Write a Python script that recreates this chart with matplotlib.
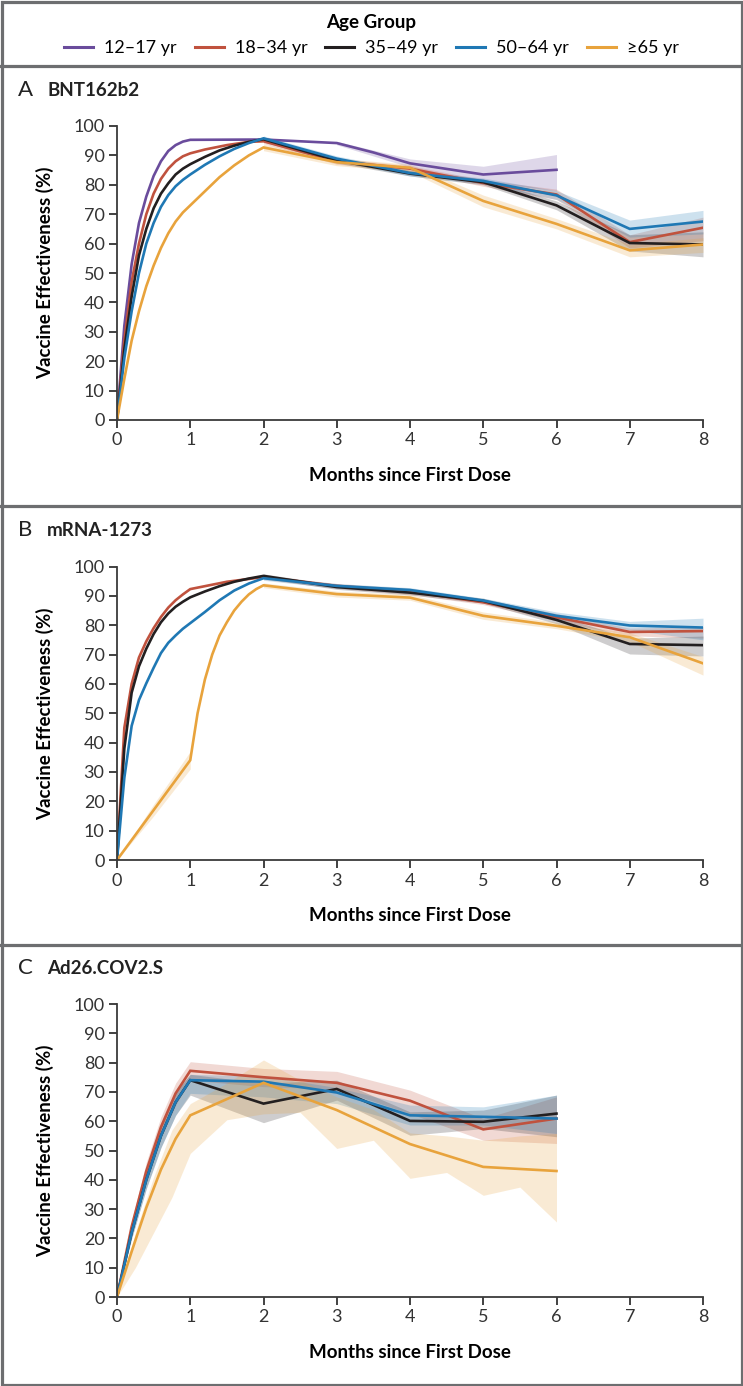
import numpy as np
import matplotlib; matplotlib.use("Agg")
import matplotlib.pyplot as plt
from matplotlib.lines import Line2D
from matplotlib.patches import Rectangle

plt.rcParams.update({"font.family": ["Lato", "DejaVu Sans"], "font.size": 12.5,
    "axes.linewidth": 1.3, "xtick.major.width": 1.3, "ytick.major.width": 1.3,
    "xtick.major.size": 6, "ytick.major.size": 6, "xtick.color": "#333333", "ytick.color": "#333333",
    "axes.edgecolor": "#3a3a3a"})

GROUPS = ["12\u201317 yr", "18\u201334 yr", "35\u201349 yr", "50\u201364 yr", "\u226565 yr"]
COLORS = ["#6a4c9c", "#c0523e", "#231f20", "#1f78b4", "#e8a33c"]
MONTHS = [0, 1, 2, 3, 4, 5, 6, 7, 8]
VE_TICKS = [0, 10, 20, 30, 40, 50, 60, 70, 80, 90, 100]

# ---- A  BNT162b2
a_1217_x = [0, 0.1, 0.2, 0.3, 0.4, 0.5, 0.6, 0.7, 0.8, 0.9, 1, 2, 3, 3.5, 4, 5, 6]
a_1217_y = [0, 32, 53, 67, 76, 83, 88, 91.5, 93.5, 94.7, 95.3, 95.4, 94.2, 91, 87.3, 83.5, 85.1]
a_1217_bx = [3, 4, 5, 6]
a_1217_lo = [93.6, 86, 81, 78]
a_1217_hi = [94.8, 88.8, 86.3, 90.3]

a_1834_x = [0, 0.1, 0.2, 0.3, 0.4, 0.5, 0.6, 0.7, 0.8, 0.9, 1, 1.2, 1.5, 1.8, 2, 3, 4, 5, 6, 7, 8]
a_1834_y = [0, 27, 47, 60, 70, 77, 82, 85.5, 88, 89.7, 90.7, 92, 93.5, 94.6, 94.8, 88, 85.5, 80.6, 76.7, 60.5, 65.4]
a_1834_bx = [2, 3, 4, 5, 6, 7, 8]
a_1834_lo = [94, 87, 84.5, 79.5, 75, 58.5, 61]
a_1834_hi = [95.6, 89, 86.5, 81.7, 78.5, 63, 69]

a_3549_x = [0, 0.1, 0.2, 0.3, 0.4, 0.5, 0.6, 0.7, 0.8, 0.9, 1, 1.2, 1.4, 1.6, 1.8, 2, 3, 4, 5, 6, 7, 8]
a_3549_y = [0, 24, 42, 56, 65, 72, 77, 80.5, 83.5, 85.5, 87, 89.5, 91.7, 93.3, 94.6, 95.5, 88.3, 83.8, 80.9, 73, 60.2, 59.7]
a_3549_bx = [2, 3, 4, 5, 6, 7, 8]
a_3549_lo = [94.6, 87.4, 83, 80, 71.5, 57.5, 55.5]
a_3549_hi = [96.3, 89.2, 84.8, 82, 74.5, 63, 64]

a_5064_x = [0, 0.1, 0.2, 0.3, 0.4, 0.5, 0.6, 0.7, 0.8, 0.9, 1, 1.2, 1.4, 1.6, 1.8, 2, 3, 4, 5, 6, 7, 8]
a_5064_y = [0, 21, 37, 50, 60, 67, 72.5, 76.5, 79.5, 81.7, 83.5, 86.8, 89.7, 92.2, 94.2, 95.8, 88.9, 84, 81.3, 76.4, 65, 67.5]
a_5064_bx = [2, 3, 4, 5, 6, 7, 8]
a_5064_lo = [95, 88, 83, 80.3, 75, 62.2, 63.3]
a_5064_hi = [96.6, 89.8, 85, 82.3, 78, 68, 71.3]

a_65_x = [0, 0.1, 0.2, 0.3, 0.4, 0.5, 0.6, 0.7, 0.8, 0.9, 1, 1.2, 1.4, 1.6, 1.8, 2, 3, 4, 5, 6, 7, 8]
a_65_y = [0, 14, 27, 37, 45.5, 52.5, 58.5, 63.5, 67.5, 70.6, 73, 77.8, 82.6, 86.6, 90, 92.7, 87.7, 85.8, 74.5, 66.7, 57.7, 59.7]
a_65_bx = [2, 3, 4, 5, 6, 7, 8]
a_65_lo = [91.6, 86.5, 84.5, 72.5, 65, 55.5, 57]
a_65_hi = [93.8, 89, 87, 76.5, 68.5, 59.8, 62]

# ---- B  mRNA-1273
b_1834_x = [0, 0.1, 0.2, 0.3, 0.4, 0.5, 0.6, 0.7, 0.8, 0.9, 1, 1.5, 2, 3, 4, 5, 6, 7, 8]
b_1834_y = [0, 45, 60, 69, 74.5, 79, 82.8, 86, 88.5, 90.5, 92.3, 94.8, 96.4, 93.4, 91.5, 87.8, 82.7, 77.7, 78]
b_1834_bx = [2, 3, 4, 5, 6, 7, 8]
b_1834_lo = [95.6, 92.5, 90.5, 87, 81.5, 76.4, 75.6]
b_1834_hi = [97, 94.2, 92.5, 88.8, 84, 79, 79.5]

b_3549_x = [0, 0.1, 0.2, 0.3, 0.4, 0.5, 0.6, 0.7, 0.8, 0.9, 1, 1.2, 1.4, 1.6, 1.8, 2, 3, 4, 5, 6, 7, 8]
b_3549_y = [0, 38, 57, 66, 72, 77, 81, 84, 86.3, 88, 89.5, 91.5, 93.3, 94.8, 95.9, 96.8, 93, 91.1, 88.3, 81.8, 73.6, 73.2]
b_3549_bx = [2, 3, 4, 5, 6, 7, 8]
b_3549_lo = [96, 92.2, 90.3, 87.5, 80.5, 70.2, 69.5]
b_3549_hi = [97.5, 93.8, 92, 89.2, 83.3, 75.6, 76.3]

b_5064_x = [0, 0.1, 0.2, 0.3, 0.4, 0.5, 0.6, 0.7, 0.8, 0.9, 1, 1.2, 1.4, 1.6, 1.8, 2, 3, 4, 5, 6, 7, 8]
b_5064_y = [0, 28, 45.7, 54.5, 60.2, 65.5, 70.5, 74, 76.5, 78.8, 80.7, 84.5, 88.5, 91.8, 94.2, 96, 93.4, 92, 88.4, 83.2, 79.9, 79.2]
b_5064_bx = [2, 3, 4, 5, 6, 7, 8]
b_5064_lo = [95.3, 92.6, 91.2, 87.6, 82, 78.4, 75]
b_5064_hi = [96.8, 94.2, 92.8, 89.2, 84.5, 81.3, 82.4]

b_65_x = [0, 0.5, 1, 1.1, 1.2, 1.3, 1.4, 1.5, 1.6, 1.7, 1.8, 1.9, 2, 3, 4, 5, 6, 7, 8]
b_65_y = [0, 17, 34, 50, 61.5, 70, 76.5, 81, 85, 88, 90.5, 92.3, 93.6, 90.6, 89.4, 83.2, 79.8, 75.9, 67]
b_65_bx_early = [0, 0.5, 1]
b_65_lo_early = [0, 15, 31]
b_65_hi_early = [0, 19, 37]
b_65_bx = [2, 3, 4, 5, 6, 7, 8]
b_65_lo = [92.8, 89.6, 88.5, 82, 78.8, 74.4, 63]
b_65_hi = [94.4, 91.6, 90.5, 84.5, 81, 77.4, 69.3]

# ---- C  Ad26.COV2.S
c_x = [0, 0.2, 0.4, 0.6, 0.8, 1, 2, 3, 4, 5, 6]
c_1834_y = [0, 24, 43, 58, 69.5, 77.2, 75, 73.1, 67, 57.2, 60.9]
c_1834_lo = [0, 22, 40, 54.5, 65.5, 74, 71.8, 71, 62.6, 53.5, 52.4]
c_1834_hi = [0, 26, 46, 61.5, 73, 80.3, 78, 77, 70.6, 60.9, 68.3]

c_3549_y = [0, 22, 40, 55, 66.5, 74, 66, 71, 60.1, 59.8, 62.6]
c_3549_lo = [0, 20, 37, 51, 62, 68.9, 59.5, 67.2, 55.2, 57.5, 54.7]
c_3549_hi = [0, 24, 43, 58.5, 70, 76, 73, 74, 63.2, 63.8, 68.9]

c_5064_y = [0, 22, 40, 55, 66.5, 74, 73.5, 69.8, 62, 61.5, 60.9]
c_5064_lo = [0, 20, 37, 51, 62, 69.5, 68.3, 66, 58.7, 58.7, 55.8]
c_5064_hi = [0, 24, 43, 58.5, 70, 76, 75.4, 71.5, 65.5, 64.9, 68.9]

c_65_y = [0, 15.5, 30.5, 43.5, 54, 62, 73.1, 63.8, 52.2, 44.4, 43]
c_65_bx = [0, 0.25, 0.5, 0.75, 1, 1.5, 2, 2.5, 3, 3.5, 4, 4.5, 5, 5.5, 6]
c_65_lo = [0, 10, 22, 34, 49, 60.5, 62.5, 63, 50.7, 53.5, 40.5, 42.5, 34.7, 37.5, 25.6]
c_65_hi = [0, 22, 41, 57, 66, 73, 80.9, 74, 68.3, 64, 56, 55, 53.5, 55, 55.8]

W, H = 743, 1386
fig = plt.figure(figsize=(W / 100, H / 100), dpi=100)

def panel(y0px, y100px, letter, name, lines, bands):
    ax = fig.add_axes([117 / W, 1 - y0px / H, 586 / W, (y0px - y100px) / H])
    for ci, bx, lo, hi in bands:
        ax.fill_between(bx, lo, hi, color=COLORS[ci], alpha=0.22, lw=0)
    for ci, x, y in lines:
        ax.plot(x, y, color=COLORS[ci], lw=1.9, solid_joinstyle="miter")
    ax.set_xlim(0, 8); ax.set_ylim(0, 100)
    ax.set_xticks(MONTHS); ax.set_yticks(VE_TICKS)
    ax.spines[["top", "right"]].set_visible(False)
    ax.tick_params(labelsize=13, pad=3, colors="#333333")
    ax.set_xlabel("Months since First Dose", fontweight="bold", fontsize=13.5, va="center")
    ax.xaxis.set_label_coords(0.5, -0.19)
    ax.set_ylabel("Vaccine Effectiveness (%)", fontweight="bold", fontsize=13.5, va="center")
    ax.yaxis.set_label_coords(-72 / 586, 0.5)
    ly = 1 - (y100px - 36) / H
    fig.text(18 / W, ly, letter, fontsize=16, va="center", ha="left", color="#222222")
    fig.text(47 / W, ly, name, fontsize=13.5, fontweight="bold", va="center", ha="left", color="#222222")
    return ax

panel(420, 126, "A", "BNT162b2",
      [(0, a_1217_x, a_1217_y), (1, a_1834_x, a_1834_y), (2, a_3549_x, a_3549_y),
       (3, a_5064_x, a_5064_y), (4, a_65_x, a_65_y)],
      [(0, a_1217_bx, a_1217_lo, a_1217_hi), (1, a_1834_bx, a_1834_lo, a_1834_hi),
       (2, a_3549_bx, a_3549_lo, a_3549_hi), (3, a_5064_bx, a_5064_lo, a_5064_hi),
       (4, a_65_bx, a_65_lo, a_65_hi)])
panel(860, 566.5, "B", "mRNA-1273",
      [(1, b_1834_x, b_1834_y), (2, b_3549_x, b_3549_y), (3, b_5064_x, b_5064_y), (4, b_65_x, b_65_y)],
      [(1, b_1834_bx, b_1834_lo, b_1834_hi), (2, b_3549_bx, b_3549_lo, b_3549_hi),
       (3, b_5064_bx, b_5064_lo, b_5064_hi), (4, b_65_bx_early, b_65_lo_early, b_65_hi_early),
       (4, b_65_bx, b_65_lo, b_65_hi)])
panel(1297, 1004, "C", "Ad26.COV2.S",
      [(1, c_x, c_1834_y), (2, c_x, c_3549_y), (3, c_x, c_5064_y), (4, c_x, c_65_y)],
      [(1, c_x, c_1834_lo, c_1834_hi), (2, c_x, c_3549_lo, c_3549_hi),
       (3, c_x, c_5064_lo, c_5064_hi), (4, c_65_bx, c_65_lo, c_65_hi)])

# legend strip
handles = [Line2D([], [], color=c, lw=2.2) for c in COLORS]
leg = fig.legend(handles, GROUPS, loc="center", bbox_to_anchor=(0.5, 1 - 35 / H), ncol=5,
                 frameon=False, fontsize=13, title="Age Group", handlelength=1.6,
                 handletextpad=0.6, columnspacing=1.0, borderpad=0)
leg.get_title().set_fontweight("bold"); leg.get_title().set_fontsize(13.5)

# panel frames
FRAME = "#6d6e70"
fig.add_artist(Rectangle((1.5 / W, 1.5 / H), 1 - 3 / W, 1 - 3 / H, transform=fig.transFigure,
                         fill=False, ec=FRAME, lw=2.3))
for ypx in [66, 506, 945]:
    fig.add_artist(Line2D([0, 1], [1 - ypx / H] * 2, transform=fig.transFigure, color=FRAME, lw=2.3))

fig.savefig("out.png", dpi=100)
